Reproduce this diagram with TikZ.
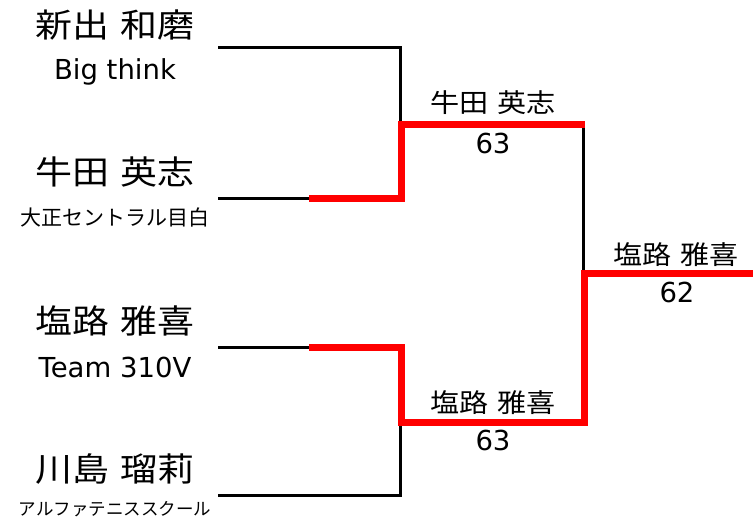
\documentclass[tikz,border=0pt]{standalone}
\usepackage{fontspec}
\setmainfont{DejaVu Sans}
\newfontfamily\jpfont{Noto Sans CJK JP}
\newfontfamily\jpwide[FakeStretch=1.12]{Noto Sans CJK JP}
\usetikzlibrary{positioning}
\usetikzlibrary{calc}
\newcommand{\gap}{\hspace{0.35em}}
\tikzstyle{every node}=[inner sep=0pt]
\tikzstyle{every path}=[line cap=butt,line join=miter]
\tikzstyle{bline}=[line width=3pt,black]
\tikzstyle{winline}=[line width=7pt,red]
\tikzstyle{pname}=[font=\jpwide\fontsize{33}{40}\selectfont]
\tikzstyle{pclub}=[font=\fontsize{27.5}{32}\selectfont]
\tikzstyle{mname}=[font=\jpwide\fontsize{26}{32}\selectfont]
\tikzstyle{mscore}=[font=\fontsize{27.5}{32}\selectfont]

\begin{document}
\begin{tikzpicture}[x=1pt,y=-1pt]
  \useasboundingbox (0,0) rectangle (753,527);

  % players
  \node[pname] (p1) at (115,25) {新出\gap 和磨};
  \node[pclub] (c1) at (115,72) {Big think};
  \node[pname] (p2) at (115,172) {牛田\gap 英志};
  \node[font=\jpfont\fontsize{21}{24}\selectfont] (c2) at (115,217) {大正セントラル目白};
  \node[pname] (p3) at (115,321) {塩路\gap 雅喜};
  \node[pclub] (c3) at (115,367) {Team 310V};
  \node[pname] (p4) at (115,469) {川島\gap 瑠莉};
  \node[font=\jpfont\fontsize{17.5}{20}\selectfont] (c4) at (115,509) {アルファテニススクール};

  % line ends
  \coordinate (e1) at (218,48);
  \coordinate (e2) at (218,198);
  \coordinate (e3) at (218,347);
  \coordinate (e4) at (218,495);
  \coordinate (s1) at (400,124);
  \coordinate (s2) at (400,422);
  \coordinate (f) at (583,273);

  % first round
  \draw[bline] (e1) -- (e1 -| s1) -- (e2 -| s1) -- (e2);
  \draw[bline] (e3) -- (e3 -| s2) -- (e4 -| s2) -- (e4);
  % semi final
  \draw[bline] (s1) -- (s1 -| f) -- (s2 -| f);

  % winners
  \draw[winline] ($(e2)+(91,0)$) -- ($(e2 -| s1)+(1,0)$) -- ($(s1)+(1,0)$) -- ($(s1 -| f)+(2,0)$);
  \draw[winline] ($(e3)+(91,0)$) -- ($(e3 -| s2)+(1,0)$) -- ($(s2)+(1,0)$)
    -- ($(s2 -| f)+(1,0)$) -- ($(f)+(1,0)$) -- (753,273);

  % results
  \node[mname] (m1) at (493,103) {牛田\gap 英志};
  \node[mscore] (r1) at (493,143) {63};
  \node[mname] (m2) at (493,403) {塩路\gap 雅喜};
  \node[mscore] (r2) at (493,440) {63};
  \node[mname] (m3) at (676,255) {塩路\gap 雅喜};
  \node[mscore] (r3) at (677,292) {62};
\end{tikzpicture}
\end{document}
